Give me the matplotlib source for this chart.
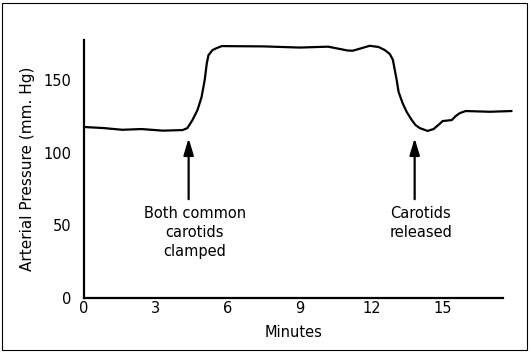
import numpy as np
import matplotlib.pyplot as plt
from matplotlib.patches import Rectangle

# pressure trace (minutes, mm Hg)
minutes = [0.0, 0.8, 1.6, 2.4, 3.3, 4.12, 4.32, 4.53, 4.74, 4.91, 5.04, 5.13,
           5.20, 5.37, 5.54, 5.75, 7.5, 9.0, 10.2, 11.0, 11.22, 11.6, 11.93,
           12.3, 12.56, 12.77, 12.9, 12.98, 13.06, 13.14, 13.31, 13.48, 13.69,
           13.85, 14.02, 14.35, 14.6, 14.85, 14.98, 15.36, 15.53, 15.7, 15.94,
           16.95, 17.86]
pressure = [117.7, 117.0, 115.8, 116.3, 115.2, 115.6, 117.0, 122.5, 129.4, 138.3,
            150.0, 161.7, 167.2, 170.7, 172.0, 173.4, 173.2, 172.4, 173.0, 170.4,
            170.2, 172.0, 173.6, 172.8, 170.7, 168.0, 164.0, 157.0, 150.0, 141.8,
            134.0, 128.0, 122.5, 119.0, 117.0, 115.0, 116.3, 119.8, 121.8, 122.5,
            125.3, 127.3, 128.7, 128.2, 128.7]

xticks = [0, 3, 6, 9, 12, 15]
yticks = [0, 50, 100, 150]

# events: (minute, label)
events = [(4.37, "Both common\ncarotids\nclamped"), (13.81, "Carotids\nreleased")]

fig = plt.figure(figsize=(5.3, 3.52), dpi=100)
ax = fig.add_axes([84 / 530, 54 / 352, 419 / 530, 258 / 352])

ax.plot(minutes, pressure, color='black', lw=1.6, clip_on=False,
        solid_joinstyle='round', solid_capstyle='round')

ax.set_xlim(0, 17.5)
ax.set_ylim(0, 177.6)
ax.set_xticks(xticks)
ax.set_yticks(yticks)
ax.tick_params(length=0, labelsize=10.5)
ax.tick_params(axis='y', pad=9)
ax.tick_params(axis='x', pad=2)
for s in ['top', 'right']:
    ax.spines[s].set_visible(False)
for s in ['left', 'bottom']:
    ax.spines[s].set_linewidth(1.6)

ax.set_xlabel('Minutes', fontsize=10.5)
ax.set_ylabel('Arterial Pressure (mm. Hg)', fontsize=11)
ax.xaxis.set_label_coords(0.5, -0.105)
ax.yaxis.set_label_coords(-0.117, 0.5)

for t, label in events:
    ax.annotate('', xy=(t, 110), xytext=(t, 68),
                arrowprops=dict(arrowstyle='-|>,head_length=1.0,head_width=0.3',
                                color='black', lw=1.6, shrinkA=0, shrinkB=0))
    ax.text(t + 0.25, 63, label, ha='center', va='top', fontsize=10.5,
            linespacing=1.3)

# frame around the whole picture
fig.patches.append(Rectangle((2 / 530, 2 / 352), 525 / 530, 347 / 352,
                             transform=fig.transFigure, fill=False,
                             edgecolor='black', lw=0.8))

plt.savefig('out.png', dpi=100)
